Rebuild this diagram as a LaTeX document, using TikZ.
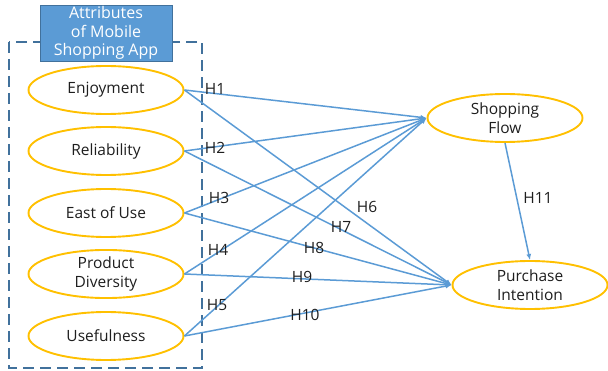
\documentclass[tikz,border=0pt]{standalone}
\usepackage{fontspec}
\setmainfont{Open Sans}
\usetikzlibrary{shapes.geometric,arrows.meta}

\definecolor{gold}{HTML}{FFC000}
\definecolor{lineblue}{HTML}{5B9BD5}
\definecolor{boxblue}{HTML}{41719C}
\definecolor{ink}{HTML}{1E1E1E}

\tikzset{
  construct/.style={ellipse, draw=gold, line width=1.9pt, fill=white,
    minimum width=155pt, minimum height=48pt, inner sep=0pt,
    align=center, text=ink, font=\fontsize{15.5}{18.5}\selectfont},
  path/.style={draw=lineblue, line width=1.5pt, -{Latex[length=6pt,width=5pt]}},
  hyp/.style={text=ink, font=\fontsize{15.5}{17}\selectfont, inner sep=1pt}
}

\begin{document}
\begin{tikzpicture}[x=1pt,y=-1pt]
            \useasboundingbox (0,0) rectangle (608,371);
            % group of attributes
            \draw[boxblue, line width=1.4pt, dash pattern=on 11pt off 6pt] (9,42) rectangle (202,368);
            \node (title) at (106,33) [rectangle, draw=boxblue, fill=lineblue, line width=0.6pt,
                minimum width=132pt, minimum height=56pt, inner sep=0pt, align=center,
                text=white, font=\fontsize{16}{18.5}\selectfont] {Attributes\\of Mobile\\Shopping App};
            % constructs
            \node (enj) at (106,90) [construct] {Enjoyment};
            \node (rel) at (106,151) [construct] {Reliability};
            \node (eou) at (106,213) [construct] {East of Use};
            \node (pdv) at (106,274) [construct] {Product\\Diversity};
            \node (use) at (106,336) [construct] {Usefulness};
            \node (flow) at (505,118) [construct] {Shopping\\Flow};
            \node (pint) at (530,285) [construct] {Purchase\\Intention};
            % paths
            \draw[path] (enj.east) -- (flow.west);
            \draw[path] (rel.east) -- (flow.west);
            \draw[path] (eou.east) -- (flow.west);
            \draw[path] (pdv.east) -- (flow.west);
            \draw[path] (use.east) -- (flow.west);
            \draw[path] (enj.east) -- (pint.west);
            \draw[path] (rel.east) -- (pint.west);
            \draw[path] (eou.east) -- (pint.west);
            \draw[path] (pdv.east) -- (pint.west);
            \draw[path] (use.east) -- (pint.west);
            \draw[path] (505,143) -- (pint.north);
            % hypotheses
            \node (h1) at (215,89) [hyp] {H1};
            \node (h2) at (215,148) [hyp] {H2};
            \node (h3) at (219,198) [hyp] {H3};
            \node (h4) at (218,250) [hyp] {H4};
            \node (h5) at (217,305) [hyp] {H5};
            \node (h6) at (367,207) [hyp] {H6};
            \node (h7) at (341,227) [hyp] {H7};
            \node (h8) at (314,248) [hyp] {H8};
            \node (h9) at (302,277) [hyp] {H9};
            \node (h10) at (305,315) [hyp] {H10};
            \node (h11) at (538,198) [hyp] {H11};
        \end{tikzpicture}
\end{document}
